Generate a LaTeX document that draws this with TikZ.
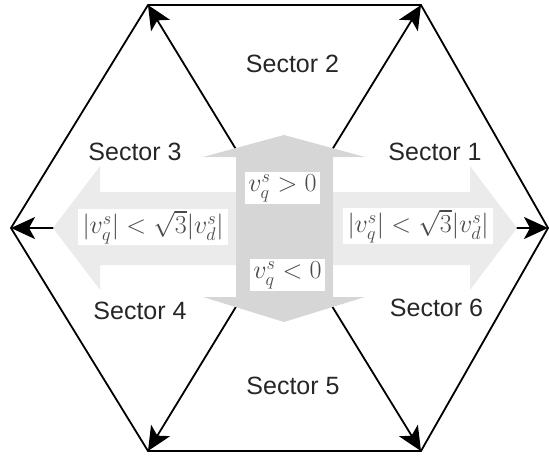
\RequirePackage{fix-cm}
\documentclass[tikz,border=0pt]{standalone}
\usepackage{fontspec}
\newfontfamily\arialf{Liberation Sans}
\usetikzlibrary{arrows.meta}
\definecolor{darkg}{HTML}{D6D6D6}
\definecolor{lightg}{HTML}{EBEBEB}
\definecolor{mathg}{HTML}{4A4A4A}
\begin{document}
\begin{tikzpicture}[x=1pt,y=-1pt,
  hexedge/.style={line width=1.8pt,line join=miter},
  vec/.style={line width=1.8pt,-{Stealth[length=24pt,width=22pt,inset=6pt]}},
  seclabel/.style={font=\arialf\fontsize{25}{30}\selectfont,text=black!85,inner sep=0pt},
  mbox/.style={fill=white,inner sep=0pt,text=mathg,font=\fontsize{26}{30}\selectfont}]
\useasboundingbox (0,0) rectangle (549,456);
\coordinate (O) at (284,228);
\coordinate (L) at (11,228);
\coordinate (TL) at (148,5);
\coordinate (TR) at (421,5);
\coordinate (R) at (548,228);
\coordinate (BR) at (421,451);
\coordinate (BL) at (148,451);
% hexagon
\draw[hexedge] (L) -- (TL) -- (TR) -- (R) -- (BR) -- (BL) -- cycle;
% vectors
\foreach \v in {L,TL,TR,R,BR,BL} \draw[vec] (O) -- (\v);
% horizontal gray arrows
\fill[lightg] (236,192) -- (100,192) -- (100,166) -- (53,228) -- (100,290) -- (100,265) -- (236,265) -- cycle;
\fill[lightg] (333,192) -- (470,192) -- (470,166) -- (517,228) -- (470,290) -- (470,265) -- (333,265) -- cycle;
% vertical gray double arrow
\fill[darkg] (284,135) -- (365,157) -- (333,157) -- (333,297) -- (365,297) -- (284,322)
  -- (203,297) -- (236,297) -- (236,157) -- (203,157) -- cycle;
% math labels
\node[mbox,minimum width=150pt,minimum height=36pt] (ml) at (153,227) {$|v_q^s| < \sqrt{3}|v_d^s|$};
\node[mbox,minimum width=150pt,minimum height=36pt] (mr) at (418,226) {$|v_q^s| < \sqrt{3}|v_d^s|$};
\node[mbox,minimum width=75pt,minimum height=32pt] (mp) at (282.5,188) {$v_q^s > 0$};
\node[mbox,minimum width=75pt,minimum height=32pt] (mn) at (287.5,275) {$v_q^s < 0$};
% sector labels
\node[seclabel] (s2) at (292.5,64) {Sector 2};
\node[seclabel] (s3) at (135,152) {Sector 3};
\node[seclabel] (s1) at (435,152) {Sector 1};
\node[seclabel] (s4) at (140,311) {Sector 4};
\node[seclabel] (s6) at (436.5,308) {Sector 6};
\node[seclabel] (s5) at (293,386) {Sector 5};
\end{tikzpicture}
\end{document}
